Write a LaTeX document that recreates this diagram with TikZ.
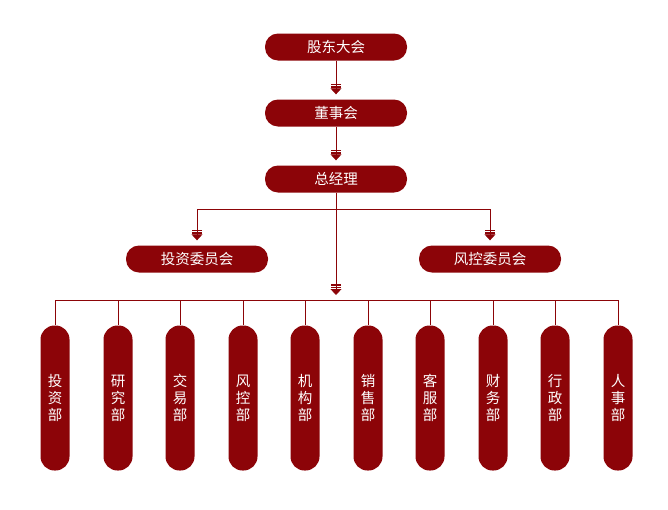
\documentclass[tikz,border=0pt]{standalone}
\usepackage{fontspec}
\newfontfamily\cjk{Noto Sans CJK SC}
\usetikzlibrary{arrows.meta}
\definecolor{dr}{RGB}{140,4,8}
\tikzset{
 hbox/.style={fill=dr,rounded corners=13pt,minimum width=142pt,minimum height=27pt,text=white,font=\cjk\fontsize{14.5}{16}\selectfont,inner sep=0pt},
 vbox/.style={fill=dr,rounded corners=14pt,minimum width=29pt,minimum height=145pt,text=white,font=\cjk\fontsize{14.5}{17}\selectfont,inner sep=0pt,align=center},
 ln/.style={draw=dr,line width=0.8pt},
 arr/.style={ln,-{Bar[width=10pt,line width=1.5pt,sep=0.8pt]Bar[width=10pt,line width=1.5pt,sep=0.8pt]Triangle[width=11pt,length=6pt]},shorten >=5pt}
}
\begin{document}
\begin{tikzpicture}[x=1pt,y=-1pt]
\useasboundingbox (0,0) rectangle (668,509);
\node[hbox] (a) at (336,47) {股东大会};
\node[hbox] (b) at (336,113) {董事会};
\node[hbox] (c) at (336,179) {总经理};
\node[hbox] (d) at (197,259) {投资委员会};
\node[hbox] (e) at (490,259) {风控委员会};
\draw[arr] (a) -- (b);
\draw[arr] (b) -- (c);
\coordinate (j) at (336,209);
\draw[ln] (c.south) -- (j);
\draw[arr] (j) -| (d.north);
\draw[arr] (j) -| (e.north);
\coordinate (h) at (336,300);
\draw[arr] (j) -- (h);
\draw[ln] (55,300) -- (618,300);
\foreach \x/\t [count=\i] in {55/投\\资\\部,118/研\\究\\部,180/交\\易\\部,243/风\\控\\部,305/机\\构\\部,368/销\\售\\部,430/客\\服\\部,493/财\\务\\部,555/行\\政\\部,618/人\\事\\部}{
 \node[vbox] (v\i) at (\x,398) {\t};
 \draw[ln] (\x,300) -- (v\i.north);
}
\end{tikzpicture}
\end{document}
